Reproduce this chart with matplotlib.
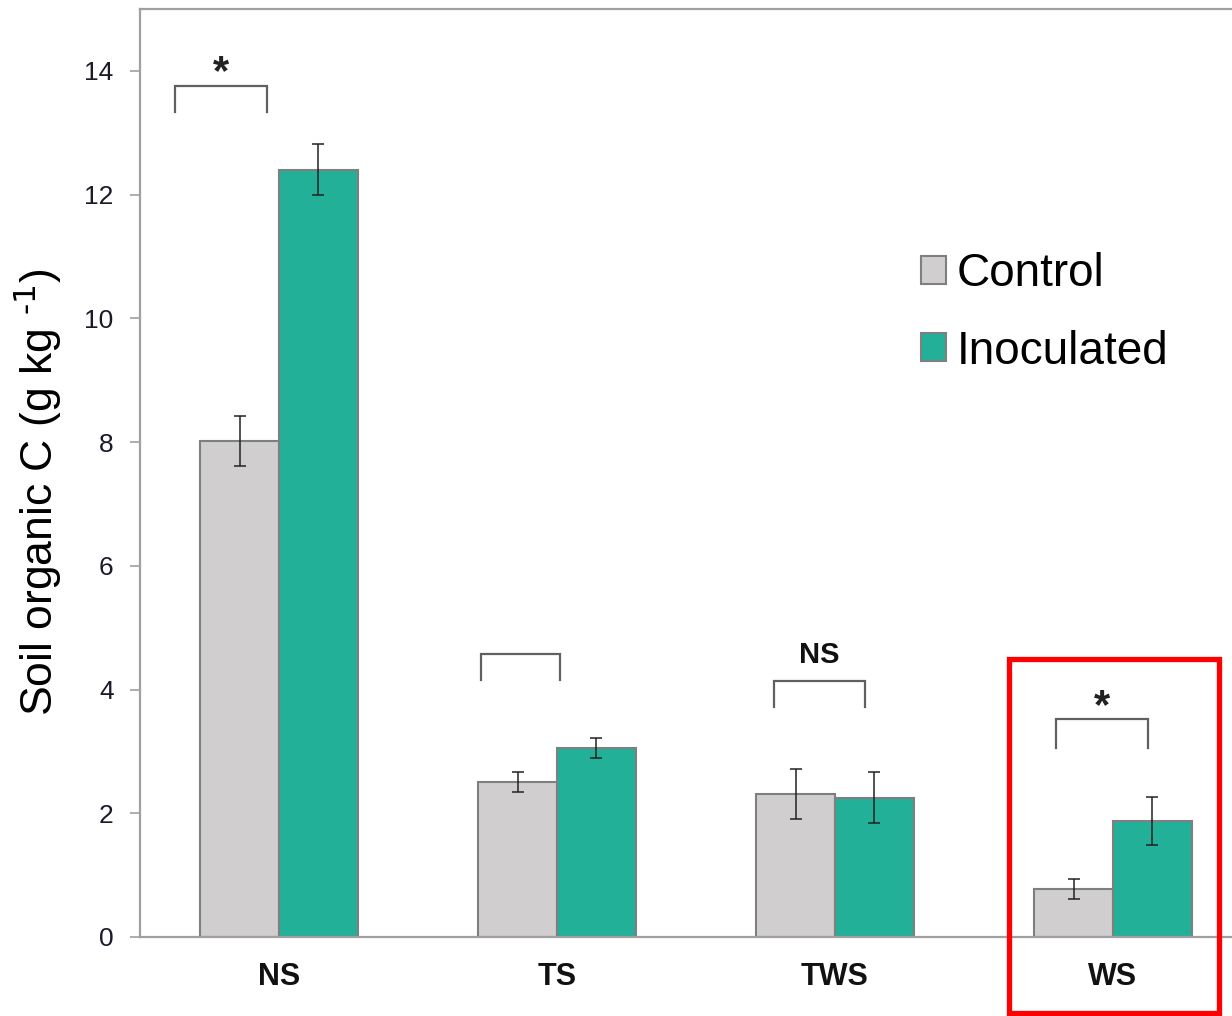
"""Soil organic C by treatment, control vs inoculated, with significance brackets."""
import matplotlib
matplotlib.use("Agg")
import matplotlib.pyplot as plt
import numpy as np
from matplotlib.patches import Rectangle

plt.rcParams["font.family"] = ["Liberation Sans", "DejaVu Sans"]
plt.rcParams["mathtext.default"] = "regular"

# data
categories = ["NS", "TS", "TWS", "WS"]
control = [8.02, 2.51, 2.31, 0.78]
control_err = [0.40, 0.16, 0.41, 0.16]
inoculated = [12.40, 3.06, 2.25, 1.88]
inoculated_err = [0.41, 0.16, 0.41, 0.39]

# significance brackets: (x_left, x_right, y_top, y_leg, label)
brackets = [
    (-0.374, -0.043, 13.76, 13.34, "*"),
    (0.727, 1.011, 4.57, 4.15, ""),
    (1.779, 2.109, 4.13, 3.72, "NS"),
    (2.795, 3.125, 3.52, 3.05, "*"),
]

C_CTRL = "#D0CECF"
C_INOC = "#22B099"
EDGE = "#7F7F7F"
SPINE = "#A0A0A0"

W_PX, H_PX = 1232, 1016
AX_W = 1200  # axes run past the right edge, like the cropped original
fig = plt.figure(figsize=(W_PX / 100, H_PX / 100), dpi=100)
ax = fig.add_axes([140 / W_PX, 1 - 937 / H_PX, AX_W / W_PX, 928 / H_PX])

x = np.arange(len(categories))
w = 0.284
b1 = ax.bar(x - w / 2, control, w, color=C_CTRL, edgecolor=EDGE, linewidth=1.5,
            label="Control", zorder=2)
b2 = ax.bar(x + w / 2, inoculated, w, color=C_INOC, edgecolor=EDGE, linewidth=1.5,
            label="Inoculated", zorder=2)
ax.errorbar(x - w / 2, control, yerr=control_err, fmt="none", ecolor="#222222",
            elinewidth=1.1, capsize=4, capthick=1.1, zorder=3)
ax.errorbar(x + w / 2, inoculated, yerr=inoculated_err, fmt="none", ecolor="#222222",
            elinewidth=1.1, capsize=4, capthick=1.1, zorder=3)

for xl, xr, yt, yl, lab in brackets:
    ax.plot([xl, xl, xr, xr], [yl, yt, yt, yl], color="#606060", lw=1.6,
            solid_joinstyle="miter", zorder=3)
    if lab == "*":
        ax.text((xl + xr) / 2, yt + 0.02, lab, ha="center", va="baseline",
                fontsize=30, fontweight="bold", color="#222222")
    elif lab:
        ax.text((xl + xr) / 2, yt + 0.30, lab, ha="center", va="baseline",
                fontsize=21, fontweight="bold", color="#111111")

# red highlight box around WS
ax.add_patch(Rectangle((2.626, -1.23), 0.755, 5.72, fill=False, edgecolor="#FF0000",
                       linewidth=3.8, clip_on=False, zorder=5))

ax.set_xlim(-0.5, -0.5 + AX_W / 278)
ax.set_ylim(0, 15)
ax.set_yticks(np.arange(0, 15, 2))
ax.set_xticks(x)
ax.set_xticklabels(categories, fontsize=22, fontweight="bold", color="#111111")
ax.tick_params(axis="x", length=0, pad=18)
ax.tick_params(axis="y", length=7, width=1.2, color=SPINE, pad=12,
               labelsize=19, labelcolor="#1a1a2a")
for s in ax.spines.values():
    s.set_color(SPINE)
    s.set_linewidth(1.6)

fig.text(38 / W_PX, 1 - 492 / H_PX, r"Soil organic C (g kg $^{\text{-1}}$)", fontsize=32,
         rotation=90, ha="center", va="center")

ax.legend(handles=[b1, b2], loc="center left", bbox_to_anchor=(921 / W_PX, 1 - 313 / H_PX),
          bbox_transform=fig.transFigure, frameon=False, fontsize=33,
          handlelength=0.55, handleheight=0.55, handletextpad=0.22,
          labelspacing=0.72, borderpad=0, borderaxespad=0)

fig.savefig("out.png", dpi=100)
